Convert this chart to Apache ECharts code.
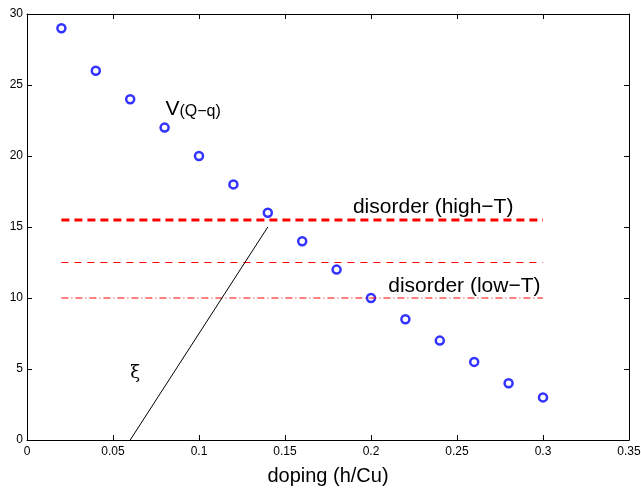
<!DOCTYPE html>
<html style="height: 100%">
   <head>
       <meta charset="utf-8">
       <script type="text/javascript" src="https://cdn.jsdelivr.net/npm/echarts/dist/echarts.min.js"></script>
   </head>
   <body style="height: 100%; margin: 0; background: #fff">
       <div id="chart" style="width: 641px; height: 489px"></div>
   </body>
</html>
<script type="text/javascript">
    var doping = [0.02, 0.04, 0.06, 0.08, 0.10, 0.12, 0.14, 0.16, 0.18, 0.20, 0.22, 0.24, 0.26, 0.28, 0.30];
    var vQq = [29, 26, 24, 22, 20, 18, 16, 14, 12, 10, 8.5, 7, 5.5, 4, 3];
    var highT = [[0.02, 15.5], [0.30, 15.5]];
    var midT = [[0.02, 12.5], [0.30, 12.5]];
    var lowT = [[0.02, 10], [0.30, 10]];
    var xiLine = [[0.06, 0], [0.14, 15]];

    var font = 'Liberation Sans, Arial, sans-serif';
    var chart = echarts.init(document.getElementById('chart'));

    var points = doping.map(function (d, i) { return [d, vQq[i]]; });

    function boxAxis(extra) {
        var base = {
            axisLine: { show: true, onZero: false, lineStyle: { color: '#000', width: 1 } },
            axisTick: { show: true, inside: true, length: 5, lineStyle: { color: '#000' } },
            splitLine: { show: false },
            axisLabel: { show: false }
        };
        return Object.assign(base, extra);
    }

    var option = {
        animation: false,
        grid: { left: 27, right: 12, top: 14, bottom: 49, outerBoundsMode: 'none', containLabel: false },
        xAxis: [
            boxAxis({
                type: 'value', min: 0, max: 0.35, interval: 0.05, position: 'bottom',
                name: 'doping (h/Cu)', nameLocation: 'middle', nameGap: 26,
                nameTextStyle: { fontFamily: font, fontSize: 20, color: '#000' },
                axisLabel: {
                    show: true, fontFamily: font, fontSize: 12, color: '#000', margin: 6,
                    formatter: function (v) { return String(+v.toFixed(2)); }
                }
            }),
            boxAxis({ type: 'value', min: 0, max: 0.35, interval: 0.05, position: 'top' })
        ],
        yAxis: [
            boxAxis({
                type: 'value', min: 0, max: 30, interval: 5, position: 'left',
                axisLabel: { show: true, fontFamily: font, fontSize: 12, color: '#000', margin: 4 }
            }),
            boxAxis({ type: 'value', min: 0, max: 30, interval: 5, position: 'right' })
        ],
        series: [
            {
                type: 'line', data: highT, symbol: 'none', silent: true,
                lineStyle: { color: '#f00', width: 3, type: [8, 5] }
            },
            {
                type: 'line', data: midT, symbol: 'none', silent: true,
                lineStyle: { color: '#f00', width: 1, type: [7, 6] }
            },
            {
                type: 'line', data: lowT, symbol: 'none', silent: true,
                lineStyle: { color: '#f00', width: 1, type: [7, 3, 1, 3] }
            },
            {
                type: 'line', data: xiLine, symbol: 'none', silent: true,
                lineStyle: { color: '#000', width: 1 }
            },
            {
                type: 'scatter', data: points, symbol: 'circle', symbolSize: 8,
                itemStyle: { color: '#fff', borderColor: '#00f', borderWidth: 2.5 }
            }
        ]
    };
    chart.setOption(option);

    // text annotations placed in data coordinates
    function px(x, y) { return chart.convertToPixel({ xAxisIndex: 0, yAxisIndex: 0 }, [x, y]); }
    var pV = px(0.0805, 23.6);
    var pHigh = px(0.1895, 16.4);
    var pLow = px(0.21, 10.8);
    var pXi = px(0.06, 4.7);
    chart.setOption({
        graphic: [
            {
                type: 'text', x: pV[0], y: pV[1],
                style: {
                    text: '{v|V}{s|(Q\u2212q)}', fill: '#000', verticalAlign: 'middle',
                    rich: {
                        v: { fontFamily: font, fontSize: 21, verticalAlign: 'bottom' },
                        s: { fontFamily: font, fontSize: 16, padding: [13, 0, 0, 0] }
                    }
                }
            },
            {
                type: 'text', x: pHigh[0], y: pHigh[1],
                style: { text: 'disorder (high\u2212T)', fontFamily: font, fontSize: 21, fill: '#000', verticalAlign: 'middle' }
            },
            {
                type: 'text', x: pLow[0], y: pLow[1],
                style: { text: 'disorder (low\u2212T)', fontFamily: font, fontSize: 21, fill: '#000', verticalAlign: 'middle' }
            },
            {
                type: 'text', x: pXi[0], y: pXi[1],
                style: { text: '\u03be', fontFamily: 'DejaVu Serif, serif', fontSize: 18, fill: '#000', verticalAlign: 'middle' }
            }
        ]
    });
</script>
